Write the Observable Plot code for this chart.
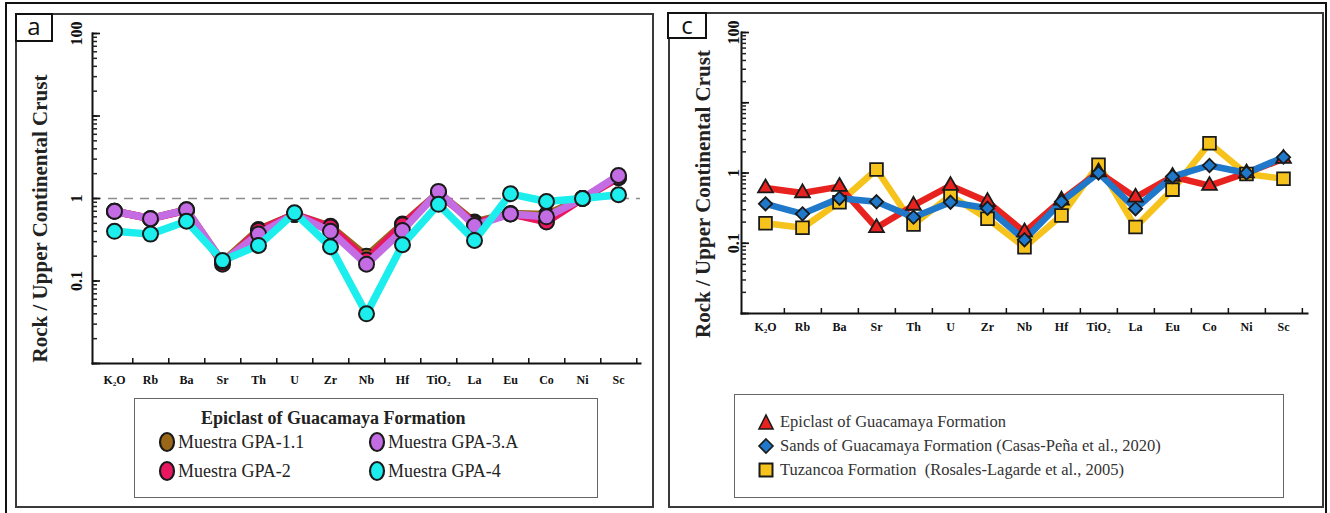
<!DOCTYPE html>
<html><head><meta charset="utf-8">
<script src="https://cdn.jsdelivr.net/npm/d3@7"></script>
<script src="https://cdn.jsdelivr.net/npm/@observablehq/plot@0.6"></script>
<style>
body{margin:0;background:#fff;width:1330px;height:513px;overflow:hidden;position:relative;font-family:"Liberation Serif","Times New Roman",serif;color:#222}
.abs{position:absolute}
.outer{left:5px;top:2px;width:1322px;height:540px;border:2px solid #111;box-sizing:border-box}
.panel{border:2px solid #3a3a3a;box-sizing:border-box}
.tag{border:2px solid #111;box-sizing:border-box;font-family:"Open Sans",sans-serif;font-size:24px;line-height:22px;text-align:center;background:#fff;color:#111}
.legend{border:1.5px solid #666;box-sizing:border-box;background:#fff}
.item{position:absolute;white-space:pre;line-height:1}
.item svg{position:absolute;overflow:visible}
</style></head>
<body>
<div class="abs outer"></div>
<div class="abs panel" style="left:15px;top:13px;width:639px;height:495px"></div>
<div class="abs panel" style="left:668px;top:12px;width:656px;height:496px"></div>
<div id="left" class="abs" style="left:15px;top:13px"></div>
<div id="right" class="abs" style="left:669px;top:12px"></div>
<div class="abs tag" style="left:15px;top:13px;width:38px;height:29px">a</div>
<div class="abs tag" style="left:667px;top:12px;width:40px;height:27px">c</div>
<div id="legL" class="abs legend" style="left:134px;top:398px;width:464px;height:100px"></div>
<div id="legR" class="abs legend" style="left:734px;top:394px;width:550px;height:104px"></div>
<script>
// ---- data ----
const elements = ["K₂O","Rb","Ba","Sr","Th","U","Zr","Nb","Hf","TiO₂","La","Eu","Co","Ni","Sc"];
const yTickValues = [100, 1, 0.1];
const yTickLabels = ["100", "1", "0.1"];
const yTitle = "Rock / Upper Continental Crust";

// panel a: Epiclast of Guacamaya Formation samples
const leftTitle = "Epiclast of Guacamaya Formation";
const leftNames = ["Muestra GPA-1.1", "Muestra GPA-2", "Muestra GPA-3.A", "Muestra GPA-4"];
const gpa11 = [0.70, 0.57, 0.73, 0.17, 0.42, 0.64, 0.46, 0.20, 0.49, 1.18, 0.52, 0.66, 0.64, 1.00, 1.78];
const gpa2  = [0.70, 0.57, 0.72, 0.16, 0.41, 0.64, 0.45, 0.18, 0.48, 1.15, 0.50, 0.65, 0.52, 1.00, 1.80];
const gpa3a = [0.70, 0.57, 0.73, 0.17, 0.37, 0.64, 0.40, 0.16, 0.41, 1.22, 0.47, 0.65, 0.60, 1.00, 1.90];
const gpa4  = [0.40, 0.37, 0.53, 0.177, 0.27, 0.67, 0.26, 0.04, 0.275, 0.85, 0.31, 1.14, 0.92, 1.00, 1.11];
const leftColors = ["#9a6718", "#e8175f", "#c46ce4", "#1ceeee"];

// panel c: comparison
const rightNames = ["Epiclast of Guacamaya Formation",
  "Sands of Guacamaya Formation (Casas-Peña et al., 2020)",
  "Tuzancoa Formation  (Rosales-Lagarde et al., 2005)"];
const epiclast = [0.61, 0.52, 0.64, 0.166, 0.345, 0.66, 0.39, 0.144, 0.41, 1.03, 0.45, 0.89, 0.66, 1.00, 1.60];
const sands    = [0.364, 0.262, 0.437, 0.39, 0.235, 0.384, 0.315, 0.112, 0.39, 1.00, 0.31, 0.89, 1.28, 1.00, 1.68];
const tuzancoa = [0.193, 0.166, 0.384, 1.12, 0.185, 0.478, 0.223, 0.088, 0.248, 1.31, 0.17, 0.58, 2.65, 0.97, 0.83];
const rightColors = ["#e8231f", "#1f78c9", "#f6c31d"];
const rightSymbols = ["triangle", "diamond2", "square"];

// ---- helpers ----
const rowsOf = vals => elements.map((el, i) => ({el, v: vals[i]}));
const minorTicks = d3.scaleLog().domain([0.01, 100]).ticks().map(d => +d.toPrecision(6));
const majorTicks = [100, 10, 1, 0.1, 0.01];
const fmt = d => yTickLabels[yTickValues.indexOf(d)];

function frameMarks(o) {
  const inner = o.width - o.marginLeft - o.marginRight;
  const half = inner / elements.length / 2;
  return [
    Plot.frame({anchor: "left", stroke: "#111", strokeWidth: 2}),
    Plot.frame({anchor: "bottom", stroke: "#111", strokeWidth: 2}),
    Plot.tickY(minorTicks, {y: d => d, stroke: "#222", strokeWidth: 1.5, insetRight: inner - 5}),
    Plot.tickY(majorTicks, {y: d => d, stroke: "#111", strokeWidth: 1.7, insetRight: inner - 8}),
    Plot.axisY({ticks: yTickValues, tickSize: 0, tickFormat: fmt, tickRotate: -90, tickPadding: o.yPad,
      fontSize: 16, fontWeight: "bold", label: null}),
    Plot.axisX({tickSize: -5, tickFormat: () => "", dx: half, strokeWidth: 1.5, label: null}),
    Plot.axisX({tickSize: 0, tickPadding: o.xPad, fontSize: 12, fontWeight: "bold", label: null}),
    Plot.text([yTitle], {text: d => d, frameAnchor: "left", textAnchor: "middle", lineAnchor: "middle",
      rotate: -90, dx: o.titleDx, dy: o.titleDy, fontSize: 21, fontWeight: "bold", fill: "#222"})
  ];
}

const common = {
  x: {type: "point", domain: elements, padding: 0.5},
  y: {type: "log", domain: [0.01, 100]},
  style: {fontFamily: "'Liberation Serif', 'Times New Roman', serif", color: "#111", background: "transparent", overflow: "visible"}
};

// left plot
const L = {width: 638, height: 385, marginTop: 20, marginBottom: 35, marginLeft: 77, marginRight: 13, yPad: 11, xPad: 12, titleDx: -52, titleDy: 20};
const leftSeries = [gpa11, gpa2, gpa3a, gpa4];
const leftPlot = Plot.plot({
  ...common, width: L.width, height: L.height, marginTop: L.marginTop, marginBottom: L.marginBottom,
  marginLeft: L.marginLeft, marginRight: L.marginRight,
  marks: [
    Plot.ruleY([1], {stroke: "#8c8c8c", strokeWidth: 1.5, strokeDasharray: "9,7"}),
    ...leftSeries.flatMap((vals, k) => [
      Plot.line(rowsOf(vals), {x: "el", y: "v", stroke: leftColors[k], strokeWidth: 7.5, strokeLinejoin: "round"}),
      Plot.dot(rowsOf(vals), {x: "el", y: "v", r: 7.5, fill: leftColors[k], stroke: "#1a1a1a", strokeWidth: 2})
    ]),
    ...frameMarks(L)
  ]
});
document.getElementById("left").append(leftPlot);

// right plot
const R = {width: 654, height: 340, marginTop: 20, marginBottom: 39, marginLeft: 72, marginRight: 16, yPad: 3, xPad: 9, titleDx: -38, titleDy: 21};
const rightSeries = [epiclast, sands, tuzancoa];
const drawOrder = [2, 0, 1];
const rightR = [5.5, 6, 7.2];
const rightPlot = Plot.plot({
  ...common, width: R.width, height: R.height, marginTop: R.marginTop, marginBottom: R.marginBottom,
  marginLeft: R.marginLeft, marginRight: R.marginRight,
  marks: [
    ...drawOrder.map(k => Plot.line(rowsOf(rightSeries[k]), {x: "el", y: "v", stroke: rightColors[k], strokeWidth: 6.5, strokeLinejoin: "round"})),
    ...drawOrder.map(k => Plot.dot(rowsOf(rightSeries[k]), {x: "el", y: "v", symbol: rightSymbols[k], r: rightR[k], fill: rightColors[k], stroke: "#1a1a1a", strokeWidth: 1.8})),
    ...frameMarks(R)
  ]
});
document.getElementById("right").append(rightPlot);

// legends
const legL = document.getElementById("legL");
legL.innerHTML = `<div class="item" style="left:66px;top:10px;font-weight:bold;font-size:18px">${leftTitle}</div>` +
  leftNames.map((n, k) => {
    const col = k < 2 ? 0 : 1, row = k % 2;
    const left = col === 0 ? 43 : 253, top = row === 0 ? 34 : 63;
    return `<div class="item" style="left:${left}px;top:${top}px;font-size:18px"><svg width="16" height="20" style="left:-19px;top:-1px"><ellipse cx="8" cy="10" rx="7" ry="9" fill="${leftColors[k]}" stroke="#1a1a1a" stroke-width="2.2"/></svg>${n}</div>`;
  }).join("");

const legR = document.getElementById("legR");
const shapes = [
  c => `<polygon points="8,1 15,15 1,15" fill="${c}" stroke="#1a1a1a" stroke-width="1.6"/>`,
  c => `<polygon points="8,1 15,8 8,15 1,8" fill="${c}" stroke="#1a1a1a" stroke-width="1.6"/>`,
  c => `<rect x="1.5" y="1.5" width="13" height="13" fill="${c}" stroke="#1a1a1a" stroke-width="2"/>`
];
legR.innerHTML = rightNames.map((n, k) =>
  `<div class="item" style="left:45px;top:${19 + 24 * k}px;font-size:16.5px;color:#333"><svg width="16" height="16" style="left:-22px;top:0px">${shapes[k](rightColors[k])}</svg>${n}</div>`).join("");
</script>
</body></html>
